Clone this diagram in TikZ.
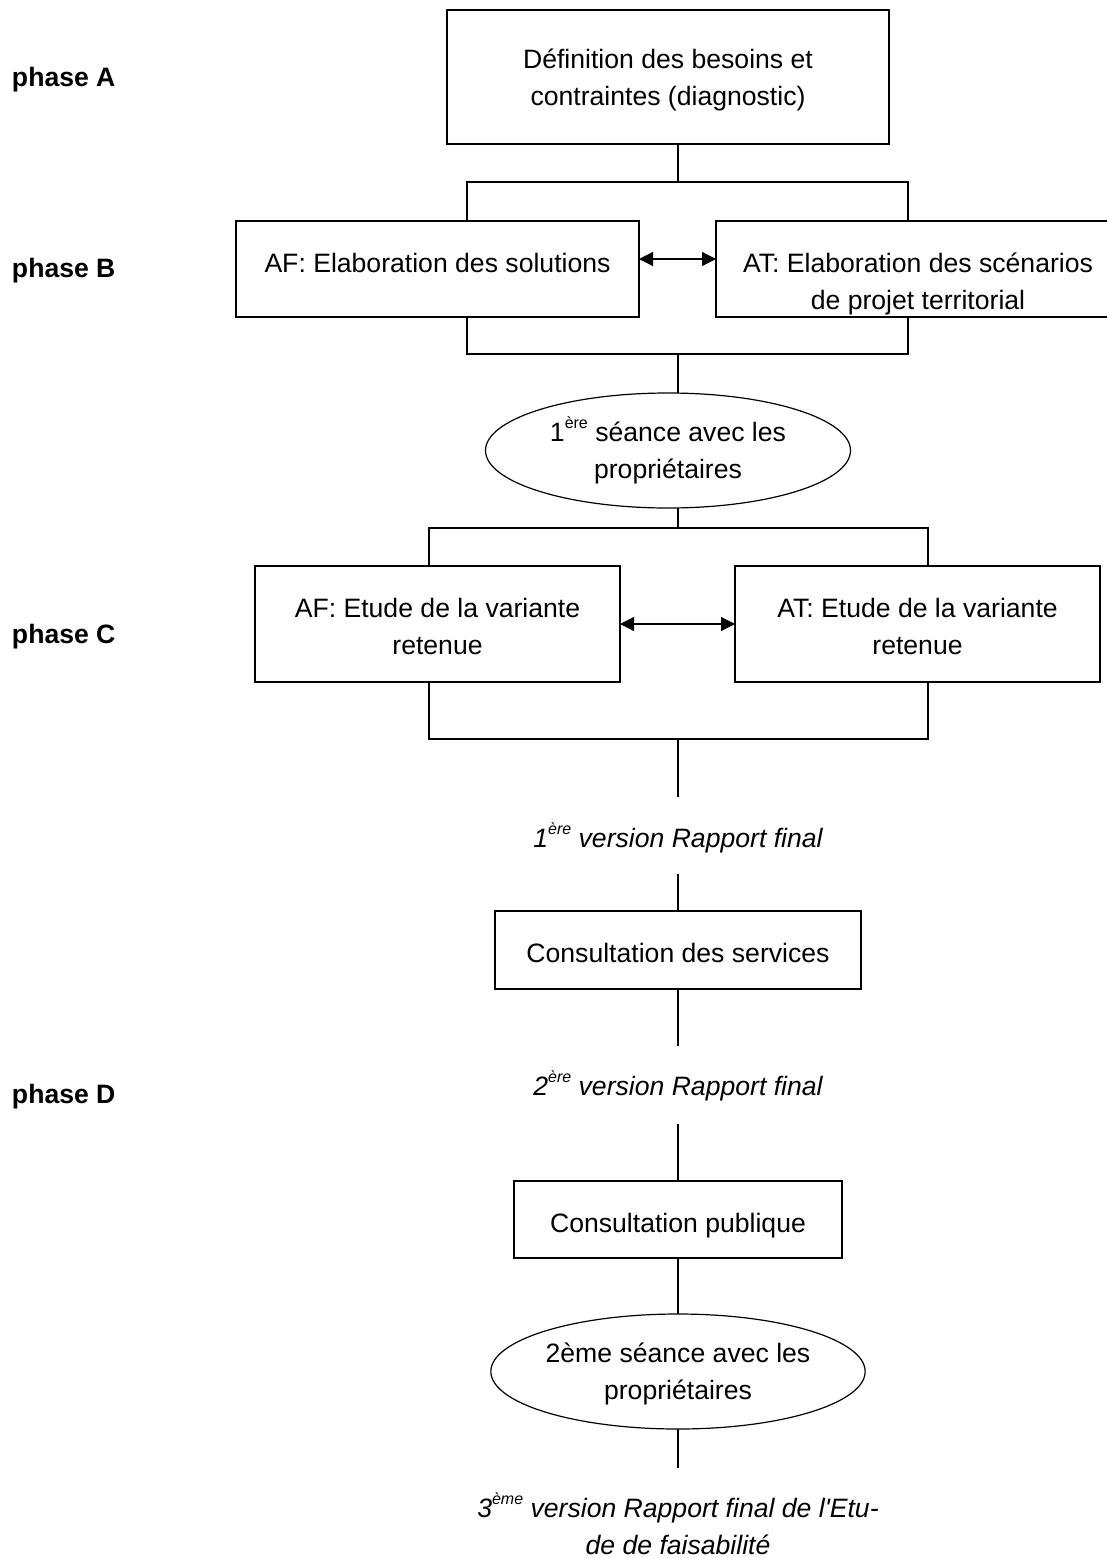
\documentclass[tikz,border=0pt]{standalone}
\usepackage{fontspec}
\setmainfont{Liberation Sans}
\newfontfamily\aposf{Liberation Sans}
\usetikzlibrary{arrows.meta,shapes.geometric}
\newcommand{\lnst}[1]{\rule[-6pt]{0pt}{#1pt}}
\newcommand{\supr}[1]{\raisebox{13pt}{\fontsize{16}{16}\selectfont #1}}
\begin{document}
\begin{tikzpicture}[x=1pt,y=-1pt,line width=1.2pt,
  every node/.style={font=\fontsize{26.6}{37}\selectfont, inner sep=0pt, outer sep=0pt},
  box/.style={draw, rectangle, align=center},
  ell/.style={draw, ellipse, align=center},
  lbl/.style={align=center},
  phase/.style={anchor=base west, font=\fontsize{26.6}{37}\selectfont\bfseries},
  dbl/.style={{Triangle[length=14pt,width=14pt]}-{Triangle[length=14pt,width=14pt]}}]
\path[use as bounding box] (0,0) rectangle (1107,1558);
\clip (0,0) rectangle (1107,1558);

% phase labels
\node[phase] (pA) at (12,86) {phase A};
\node[phase] (pB) at (12,277) {phase B};
\node[phase] (pC) at (12,643) {phase C};
\node[phase] (pD) at (12,1103) {phase D};

% boxes
\node[box, minimum width=442pt, minimum height=134pt] (A) at (668,77)
  {\lnst{31}Définition des besoins et\\\lnst{31}contraintes (diagnostic)};
\node[box, minimum width=403pt, minimum height=96pt] (AFb) at (437.5,269)
  {\lnst{55}AF: Elaboration des solutions\\\lnst{31}};
\node[box, minimum width=404pt, minimum height=96pt] (ATb) at (918,269)
  {\lnst{55}AT: Elaboration des scénarios\\\lnst{31}de projet territorial};
\node[ell, minimum width=365pt, minimum height=115pt] (E1) at (668,450.5)
  {\lnst{31}1\supr{ère} séance avec les\\\lnst{31}propriétaires};
\node[box, minimum width=365pt, minimum height=116pt] (AFc) at (437.5,624)
  {\lnst{35}AF: Etude de la variante\\\lnst{31}retenue};
\node[box, minimum width=365pt, minimum height=116pt] (ATc) at (917.5,624)
  {\lnst{35}AT: Etude de la variante\\\lnst{31}retenue};
\node[lbl] (v1) at (678,837.5) {\itshape\lnst{31}1\supr{ère} version Rapport final};
\node[box, minimum width=366pt, minimum height=78pt] (CS) at (678,950)
  {\lnst{36}Consultation des services};
\node[lbl] (v2) at (678,1085.5) {\itshape\lnst{31}2\supr{ère} version Rapport final};
\node[box, minimum width=328pt, minimum height=77pt] (CP) at (678,1219.5)
  {\lnst{37}Consultation publique};
\node[ell, minimum width=366pt, minimum height=115pt] (E2) at (678,1371.5)
  {\lnst{31}2ème séance avec les\\\lnst{31}propriétaires};
\node[lbl, font=\fontsize{26.6}{37}\selectfont\itshape] (v3) at (678,1526)
  {\lnst{31}3\supr{ème} version Rapport final de l{\aposf\itshape '}Etu-\\\lnst{31}de de faisabilité};

% junction coordinates
\coordinate (jA) at (678,182);
\coordinate (lB1) at (467,182);
\coordinate (rB1) at (908,182);
\coordinate (jB) at (678,354);
\coordinate (lB2) at (467,354);
\coordinate (rB2) at (908,354);
\coordinate (jC1) at (678,528);
\coordinate (lC1) at (429,528);
\coordinate (rC1) at (928,528);
\coordinate (jC2) at (678,739);
\coordinate (lC2) at (429,739);
\coordinate (rC2) at (928,739);
\coordinate (e1) at (678,797);
\coordinate (s1) at (678,874);
\coordinate (e2) at (678,1046);
\coordinate (s2) at (678,1124);
\coordinate (e3) at (678,1468);
\coordinate (aB) at (0,259);
\coordinate (aC) at (0,624);

% connectors
\draw (A.south -| jA) -- (jA);
\draw (AFb.north -| lB1) -- (lB1) -- (rB1) -- (ATb.north -| rB1);
\draw (AFb.south -| lB2) -- (lB2) -- (rB2) -- (ATb.south -| rB2);
\draw (jB) -- (E1.north -| jB);
\draw (E1.south -| jC1) -- (jC1);
\draw (AFc.north -| lC1) -- (lC1) -- (rC1) -- (ATc.north -| rC1);
\draw (AFc.south -| lC2) -- (lC2) -- (rC2) -- (ATc.south -| rC2);
\draw (jC2) -- (e1);
\draw (s1) -- (CS.north);
\draw (CS.south) -- (e2);
\draw (s2) -- (CP.north);
\draw (CP.south) -- (E2.north);
\draw (E2.south) -- (e3);
\draw[dbl] (AFb.east |- aB) -- (ATb.west |- aB);
\draw[dbl] (AFc.east |- aC) -- (ATc.west |- aC);
\end{tikzpicture}
\end{document}
